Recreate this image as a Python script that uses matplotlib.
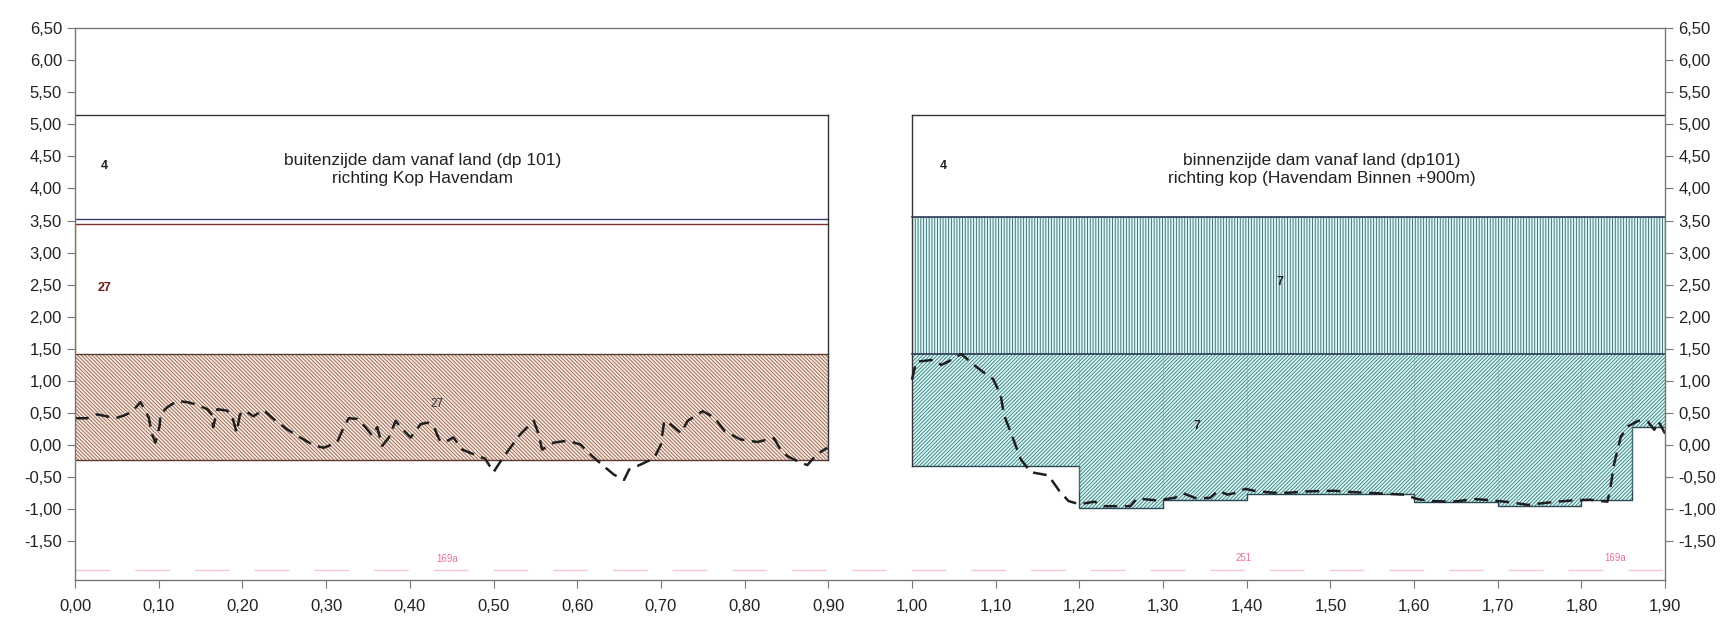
import numpy as np
import matplotlib
matplotlib.use("Agg")
import matplotlib.pyplot as plt
from matplotlib.ticker import FuncFormatter

plt.rcParams['font.family'] = ['Liberation Sans', 'DejaVu Sans']
plt.rcParams['hatch.linewidth'] = 0.65

# --- layer boundaries (m) ---
left_span = [0.00, 0.90]
left_box4 = [3.52, 5.15]          # white layer "4"
left_line27 = 3.45                # top of layer 27
left_band = [-0.23, 1.42]         # hatched layer 27

right_span = [1.00, 1.90]
right_box4 = [3.55, 5.15]
right_vert = [1.42, 3.55]         # vertical hatch layer 7
right_diag_top = 1.42
right_steps_x = [1.00, 1.20, 1.30, 1.40, 1.60, 1.70, 1.80, 1.86, 1.90]
right_steps_bot = [-0.33, -0.98, -0.86, -0.76, -0.89, -0.94, -0.86, 0.29]

# --- measured profile (dashed) ---
left_x = [0.000, 0.014, 0.026, 0.034, 0.048, 0.058, 0.068, 0.078, 0.084, 0.088,
          0.092, 0.096, 0.101, 0.102, 0.110, 0.122, 0.134, 0.146, 0.158, 0.163,
          0.165, 0.170, 0.181, 0.187, 0.193, 0.197, 0.203, 0.213, 0.225, 0.237,
          0.253, 0.269, 0.285, 0.297, 0.313, 0.321, 0.327, 0.337, 0.347, 0.355,
          0.361, 0.367, 0.375, 0.383, 0.389, 0.401, 0.413, 0.421, 0.429, 0.435,
          0.441, 0.452, 0.463, 0.476, 0.490, 0.500, 0.510, 0.520, 0.532, 0.548,
          0.554, 0.558, 0.572, 0.588, 0.604, 0.618, 0.632, 0.644, 0.656, 0.662,
          0.676, 0.692, 0.700, 0.704, 0.712, 0.724, 0.732, 0.750, 0.764, 0.776,
          0.795, 0.815, 0.835, 0.843, 0.851, 0.865, 0.875, 0.881, 0.889, 0.899]
left_y = [0.42, 0.42, 0.48, 0.46, 0.42, 0.46, 0.52, 0.67, 0.54, 0.43,
          0.17, 0.04, 0.30, 0.48, 0.59, 0.69, 0.67, 0.63, 0.56, 0.48,
          0.28, 0.56, 0.54, 0.48, 0.20, 0.48, 0.54, 0.45, 0.55, 0.41,
          0.25, 0.12, 0.00, -0.04, 0.04, 0.28, 0.42, 0.41, 0.28, 0.15,
          0.28, -0.01, 0.12, 0.38, 0.28, 0.12, 0.33, 0.35, 0.28, 0.09,
          0.04, 0.12, -0.07, -0.14, -0.21, -0.42, -0.22, -0.04, 0.17, 0.38,
          0.17, -0.07, 0.04, 0.07, 0.01, -0.17, -0.33, -0.46, -0.54, -0.38,
          -0.30, -0.20, 0.01, 0.38, 0.32, 0.19, 0.38, 0.53, 0.43, 0.22,
          0.09, 0.05, 0.11, -0.07, -0.17, -0.26, -0.31, -0.22, -0.12, -0.04]

right_x = [1.000, 1.005, 1.026, 1.035, 1.043, 1.059, 1.074, 1.085, 1.097, 1.106,
           1.110, 1.118, 1.130, 1.142, 1.163, 1.176, 1.187, 1.200, 1.218, 1.229,
           1.261, 1.269, 1.292, 1.314, 1.324, 1.340, 1.356, 1.366, 1.377, 1.388,
           1.398, 1.409, 1.430, 1.451, 1.472, 1.504, 1.525, 1.557, 1.588, 1.604,
           1.620, 1.646, 1.673, 1.694, 1.715, 1.736, 1.763, 1.789, 1.810, 1.831,
           1.834, 1.839, 1.847, 1.855, 1.868, 1.879, 1.887, 1.892, 1.900]
right_y = [1.02, 1.30, 1.33, 1.25, 1.30, 1.42, 1.25, 1.14, 1.03, 0.78,
           0.47, 0.20, -0.22, -0.42, -0.47, -0.71, -0.87, -0.92, -0.88, -0.95,
           -0.95, -0.83, -0.86, -0.82, -0.75, -0.83, -0.82, -0.71, -0.77, -0.74,
           -0.68, -0.71, -0.74, -0.74, -0.72, -0.71, -0.73, -0.75, -0.77, -0.84,
           -0.87, -0.88, -0.84, -0.86, -0.89, -0.93, -0.89, -0.86, -0.85, -0.88,
           -0.71, -0.29, 0.13, 0.29, 0.38, 0.37, 0.24, 0.37, 0.18]

y_ticks = np.arange(-1.5, 6.51, 0.5)
x_ticks = np.arange(0.0, 1.901, 0.1)

brown_face = '#f7eadf'
brown_hatch = '#9a6656'
teal_face = '#dcf7f5'
teal_hatch = '#3a8282'
vert_hatch = '#3f6c76'

fig = plt.figure(figsize=(17.34, 6.26), dpi=100)
ax = fig.add_axes([0.0433, 0.0735, 0.917, 0.8818])
ax.set_xlim(0, 1.9)
ax.set_ylim(-2.1, 6.5)

# left panel
lx0, lx1 = left_span
ax.fill_between(left_span, left_band[0], left_band[1], facecolor=brown_face,
                edgecolor=brown_hatch, hatch='\\' * 9, linewidth=0)
ax.plot([lx0, lx1], [left_band[1]] * 2, color='#5a3a30', lw=1)
ax.plot([lx0, lx1], [left_band[0]] * 2, color='#5a3a30', lw=1)
ax.plot([lx0, lx1], [left_box4[1]] * 2, color='#333333', lw=1)
ax.plot([lx0, lx1], [left_box4[0]] * 2, color='#3a3a70', lw=1)
ax.plot([lx0, lx1], [left_line27] * 2, color='#7a3030', lw=1)
ax.plot([lx1, lx1], [left_box4[1], left_band[0]], color='#333333', lw=1)
ax.plot([lx0, lx0], [left_line27, left_band[1]], color='#d08040', lw=1)

# right panel
rx0, rx1 = right_span
ax.fill_between(right_span, right_vert[0], right_vert[1], facecolor=teal_face,
                edgecolor=vert_hatch, hatch='|' * 6, linewidth=0)
ax.fill_between(right_steps_x, right_steps_bot + [right_steps_bot[-1]], right_diag_top,
                step='post', facecolor=teal_face, edgecolor=teal_hatch,
                hatch='/' * 9, linewidth=0)
ax.step(right_steps_x, right_steps_bot + [right_steps_bot[-1]], where='post',
        color='#2a4a55', lw=1)
ax.plot([rx0, rx1], [right_vert[0]] * 2, color='#2a3a55', lw=1.2)
ax.plot([rx0, rx1], [right_vert[1]] * 2, color='#2a3a55', lw=1.2)
ax.plot([rx0, rx1], [right_box4[1]] * 2, color='#333333', lw=1)
ax.plot([rx0, rx0], [right_box4[1], right_steps_bot[0]], color='#333333', lw=1)
for sx in right_steps_x[1:-1]:
    ax.plot([sx, sx], [right_diag_top, -0.7], color='#6aa8a8', lw=0.6, alpha=0.5)

# profile
ax.plot(left_x, left_y, color='#1e1e1e', lw=1.8, dashes=(5.5, 3))
ax.plot(right_x, right_y, color='#1e1e1e', lw=1.8, dashes=(5.5, 3))

# faint baseline at bottom
ax.plot([0.0, 1.9], [-1.95, -1.95], color='#f0b0c4', lw=1, dashes=(25, 18), alpha=0.7)

# labels
ax.text(0.035, 4.35, '4', fontsize=9, fontweight='bold', color='#222222', ha='center', va='center')
ax.text(0.035, 2.45, '27', fontsize=9, fontweight='bold', color='#6b1a10', ha='center', va='center')
ax.text(0.432, 0.64, '27', fontsize=8.5, color='#333333', ha='center', va='center')
ax.text(1.038, 4.35, '4', fontsize=9, fontweight='bold', color='#222222', ha='center', va='center')
ax.text(1.44, 2.55, '7', fontsize=9, fontweight='bold', color='#222222', ha='center', va='center')
ax.text(1.34, 0.30, '7', fontsize=9, fontweight='bold', color='#222222', ha='center', va='center')
ax.text(0.415, 4.30, 'buitenzijde dam vanaf land (dp 101)\nrichting Kop Havendam',
        fontsize=12.5, color='#222222', ha='center', va='center', linespacing=1.25)
ax.text(1.49, 4.30, 'binnenzijde dam vanaf land (dp101)\nrichting kop (Havendam Binnen +900m)',
        fontsize=12.5, color='#222222', ha='center', va='center', linespacing=1.25)
ax.text(0.445, -1.78, '169a', fontsize=7, color='#e8709a', ha='center', va='center')
ax.text(1.396, -1.75, '251', fontsize=7, color='#e8709a', ha='center', va='center')
ax.text(1.84, -1.75, '169a', fontsize=7, color='#e8709a', ha='center', va='center')

# axes
comma = FuncFormatter(lambda v, p: f"{v:.2f}".replace('.', ','))
ax.set_yticks(y_ticks)
ax.set_xticks(x_ticks)
ax.xaxis.set_major_formatter(comma)
ax.yaxis.set_major_formatter(comma)
ax.tick_params(axis='y', left=True, right=True, labelleft=True, labelright=True,
               direction='out', length=6, color='#777777', labelsize=12, labelcolor='#222222')
ax.tick_params(axis='x', direction='out', length=6, color='#777777', labelsize=12,
               labelcolor='#222222', pad=8)
for s in ax.spines.values():
    s.set_color('#777777')
    s.set_linewidth(1)

fig.savefig('out.png', dpi=100)
